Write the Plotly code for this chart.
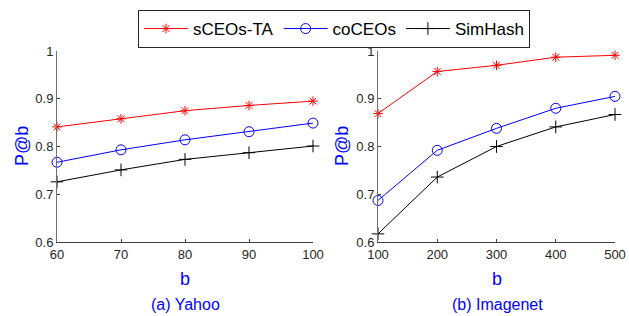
import plotly.graph_objects as go

yahoo_b = [60, 70, 80, 90, 100]
yahoo_sceos = [0.841, 0.858, 0.875, 0.886, 0.895]
yahoo_coceos = [0.767, 0.793, 0.814, 0.831, 0.849]
yahoo_simhash = [0.726, 0.751, 0.773, 0.787, 0.801]

imagenet_b = [100, 200, 300, 400, 500]
imagenet_sceos = [0.869, 0.957, 0.970, 0.987, 0.991]
imagenet_coceos = [0.687, 0.792, 0.838, 0.880, 0.905]
imagenet_simhash = [0.617, 0.736, 0.800, 0.841, 0.867]

series_names = ["sCEOs-TA", "coCEOs", "SimHash"]
colors = ["#ff0000", "#0000ff", "#000000"]
symbols = ["asterisk-open", "circle-open", "cross-thin-open"]
sizes = [8, 10, 9]

fig = go.Figure()
for i, (name, ys) in enumerate(zip(series_names, [yahoo_sceos, yahoo_coceos, yahoo_simhash])):
    fig.add_trace(go.Scatter(x=yahoo_b, y=ys, mode="lines+markers", name=name,
                             line=dict(color=colors[i], width=1),
                             marker=dict(symbol=symbols[i], size=sizes[i], color=colors[i],
                                         line=dict(color=colors[i], width=1)),
                             xaxis="x", yaxis="y", showlegend=True, cliponaxis=False))
for i, (name, ys) in enumerate(zip(series_names, [imagenet_sceos, imagenet_coceos, imagenet_simhash])):
    fig.add_trace(go.Scatter(x=imagenet_b, y=ys, mode="lines+markers", name=name,
                             line=dict(color=colors[i], width=1),
                             marker=dict(symbol=symbols[i], size=sizes[i], color=colors[i],
                                         line=dict(color=colors[i], width=1)),
                             xaxis="x2", yaxis="y2", showlegend=False, cliponaxis=False))

axis_common = dict(showline=True, linewidth=1, ticks="inside",
                   ticklen=3, tickcolor="#404040", showgrid=False, zeroline=False,
                   automargin=False,
                   tickfont=dict(family="Liberation Sans, Arial", size=13, color="#262626"))
xstyle = dict(linecolor="#404040", **axis_common)
ystyle = dict(linecolor="#707070", **axis_common)

W, H = 629, 316
ydom = [(H - 242) / H, (H - 51) / H]
fig.update_layout(
    width=W, height=H, margin=dict(l=0, r=0, t=0, b=0, autoexpand=False),
    paper_bgcolor="white", plot_bgcolor="white",
    xaxis=dict(domain=[57 / W, 313 / W], range=[60, 100], tickvals=yahoo_b, anchor="y", **xstyle),
    yaxis=dict(domain=ydom, range=[0.6, 1.0], tickvals=[0.6, 0.7, 0.8, 0.9, 1.0],
               ticktext=["0.6", "0.7", "0.8", "0.9", "1"], anchor="x", **ystyle),
    xaxis2=dict(domain=[378 / W, 615 / W], range=[100, 500], tickvals=imagenet_b, anchor="y2", **xstyle),
    yaxis2=dict(domain=ydom, range=[0.6, 1.0], tickvals=[0.6, 0.7, 0.8, 0.9, 1.0],
                ticktext=["0.6", "0.7", "0.8", "0.9", "1"], anchor="x2", **ystyle),
    legend=dict(orientation="h", x=334 / W, xanchor="center", y=1 - 10 / H, yanchor="top",
                bordercolor="#262626", borderwidth=1, bgcolor="white",
                font=dict(family="Liberation Sans, Arial", size=17, color="#000000"),
                itemwidth=44, tracegroupgap=0),
    showlegend=True,
)

ann_font = dict(family="Liberation Sans, Arial", color="#0000ff")
annotations = [
    dict(text="P@b", x=22 / W, y=(H - 146) / H, textangle=-90, font=dict(size=18, **ann_font)),
    dict(text="P@b", x=342 / W, y=(H - 146) / H, textangle=-90, font=dict(size=18, **ann_font)),
    dict(text="b", x=185 / W, y=(H - 279) / H, font=dict(size=18, **ann_font)),
    dict(text="b", x=497 / W, y=(H - 279) / H, font=dict(size=18, **ann_font)),
    dict(text="(a) Yahoo", x=185 / W, y=(H - 304) / H, font=dict(size=16, **ann_font)),
    dict(text="(b) Imagenet", x=497 / W, y=(H - 304) / H, font=dict(size=16, **ann_font)),
]
for a in annotations:
    fig.add_annotation(xref="paper", yref="paper", showarrow=False, xanchor="center", yanchor="middle", **a)

fig.write_html("out.html", config={"displayModeBar": False},
               post_script="document.body.style.margin='0';document.body.style.overflow='hidden';")
